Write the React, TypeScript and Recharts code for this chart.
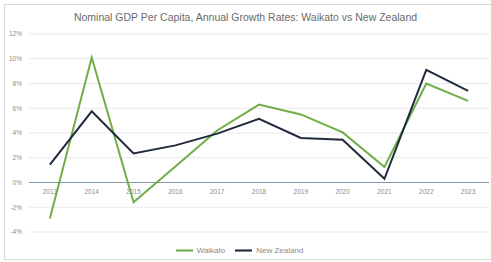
import * as React from "react";
import {
  LineChart,
  Line,
  XAxis,
  YAxis,
  CartesianGrid,
  ReferenceLine,
  Legend,
} from "recharts";

const years = ["2013", "2014", "2015", "2016", "2017", "2018", "2019", "2020", "2021", "2022", "2023"];
const waikato = [-2.9, 10.1, -1.6, 1.3, 4.2, 6.3, 5.5, 4.05, 1.25, 8.0, 6.6];
const newZealand = [1.45, 5.75, 2.35, 3.0, 3.95, 5.15, 3.6, 3.45, 0.3, 9.1, 7.4];
const yTicks = [-4, -2, 0, 2, 4, 6, 8, 10, 12];
const seriesOrder = ["Waikato", "New Zealand"];

const data = years.map((year, i) => ({
  year,
  Waikato: waikato[i],
  "New Zealand": newZealand[i],
}));

const WIDTH = 491;
const HEIGHT = 262;
const MARGIN = { top: 34, right: 2, left: 0, bottom: 12 };
const Y_MIN = -4;
const Y_MAX = 12;
const PLOT_BOTTOM = 232;

// Excel puts the category labels on the 0% line, not at the bottom of the plot
function ZeroLineTick(props: any) {
  const { x, y, payload } = props;
  const zeroOffset = ((0 - Y_MIN) / (Y_MAX - Y_MIN)) * (PLOT_BOTTOM - MARGIN.top);
  return (
    <text
      x={x}
      y={y - zeroOffset}
      dy={3}
      textAnchor="middle"
      fontSize={6.5}
      fill="#8c8c8c"
      fontFamily="Liberation Sans, Arial, sans-serif"
    >
      {payload.value}
    </text>
  );
}

export default function App() {
  return (
    <div
      style={{
        position: "absolute",
        left: 0,
        top: 0,
        width: WIDTH,
        height: HEIGHT,
        background: "#ffffff",
        fontFamily: "Liberation Sans, Arial, sans-serif",
        overflow: "hidden",
      }}
    >
      <div
        style={{
          position: "absolute",
          left: 4,
          top: 4,
          width: WIDTH,
          height: 256,
          border: "1px solid #d9d9d9",
          boxSizing: "border-box",
        }}
      />
      <div
        style={{
          position: "absolute",
          top: 11,
          left: 0,
          width: WIDTH,
          textAlign: "center",
          fontSize: 10.5,
          color: "#6b6b6b",
        }}
      >
        Nominal GDP Per Capita, Annual Growth Rates: Waikato vs New Zealand
      </div>
      <div style={{ position: "absolute", left: 0, top: 0 }}>
        <LineChart width={WIDTH} height={HEIGHT} data={data} margin={MARGIN}>
          <CartesianGrid vertical={false} stroke="#e3e3e3" strokeWidth={0.8} />
          <XAxis
            dataKey="year"
            scale="band"
            axisLine={false}
            tickLine={false}
            tick={<ZeroLineTick />}
            interval={0}
            height={1}
          />
          <YAxis
            domain={[Y_MIN, Y_MAX]}
            ticks={yTicks}
            width={29}
            axisLine={false}
            tickLine={false}
            tickSize={0}
            tickMargin={7}
            tickFormatter={(v) => `${v}%`}
            tick={{ fontSize: 6.5, fill: "#8c8c8c" }}
          />
          <ReferenceLine y={0} stroke="#8496a9" strokeWidth={1.2} />
          <Legend
            verticalAlign="bottom"
            iconType="plainline"
            iconSize={17}
            itemSorter={(item: any) => seriesOrder.indexOf(item.value)}
            wrapperStyle={{ fontSize: 8, color: "#8c8c8c", lineHeight: "9px", bottom: 3 }}
            formatter={(value) => <span style={{ color: "#8c8c8c" }}>{value}</span>}
          />
          <Line
            type="linear"
            dataKey="Waikato"
            stroke="#70ad47"
            strokeWidth={2}
            dot={false}
            isAnimationActive={false}
          />
          <Line
            type="linear"
            dataKey="New Zealand"
            stroke="#1f2a3c"
            strokeWidth={2}
            dot={false}
            isAnimationActive={false}
          />
        </LineChart>
      </div>
    </div>
  );
}
